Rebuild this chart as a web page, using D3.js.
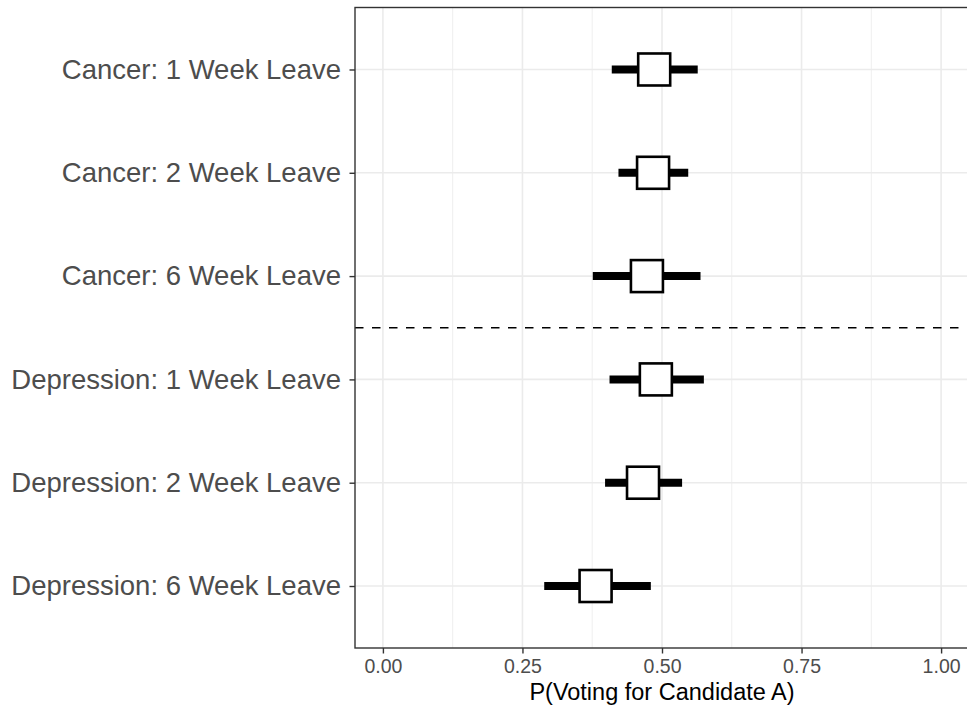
<!DOCTYPE html>
<html lang="en">
<head>
  <meta charset="UTF-8">
  <title>P(Voting for Candidate A)</title>
  <script src="https://d3js.org/d3.v7.min.js"></script>
  <style>
    body { margin: 0; background: #fff; }
    text { font-family: "Liberation Sans", Arial, sans-serif; }
  </style>
</head>
<body>
  <svg width="967" height="708" id="chart"></svg>
  <script>
    const categories = [
      'Cancer: 1 Week Leave',
      'Cancer: 2 Week Leave',
      'Cancer: 6 Week Leave',
      'Depression: 1 Week Leave',
      'Depression: 2 Week Leave',
      'Depression: 6 Week Leave'
    ];
    const estimates = [0.486, 0.484, 0.473, 0.489, 0.466, 0.381];
    const lower = [0.410, 0.422, 0.376, 0.406, 0.398, 0.289];
    const upper = [0.564, 0.547, 0.569, 0.575, 0.536, 0.480];
    const xTicks = [0, 0.25, 0.5, 0.75, 1];
    const xMinor = [0.125, 0.375, 0.625, 0.875];

    const svg = d3.select('#chart');
    const margin = { top: 7.5, right: -2, bottom: 60, left: 355 };
    const width = +svg.attr('width');
    const height = +svg.attr('height');
    const innerWidth = width - margin.left - margin.right;
    const innerHeight = height - margin.top - margin.bottom;

    const x = d3.scaleLinear().domain([-0.05, 1.05]).range([0, innerWidth]);
    const y = d3.scalePoint().domain(categories).range([0, innerHeight]).padding(0.6);

    const g = svg.append('g').attr('transform', `translate(${margin.left},${margin.top})`);

    // grid
    g.selectAll('.minor').data(xMinor).join('line')
      .attr('x1', d => x(d)).attr('x2', d => x(d))
      .attr('y1', 0).attr('y2', innerHeight)
      .attr('stroke', '#ebebeb').attr('stroke-width', 0.8);
    g.selectAll('.major').data(xTicks).join('line')
      .attr('x1', d => x(d)).attr('x2', d => x(d))
      .attr('y1', 0).attr('y2', innerHeight)
      .attr('stroke', '#ebebeb').attr('stroke-width', 1.6);
    g.selectAll('.hgrid').data(categories).join('line')
      .attr('x1', 0).attr('x2', innerWidth)
      .attr('y1', d => y(d)).attr('y2', d => y(d))
      .attr('stroke', '#ebebeb').attr('stroke-width', 1.6);

    // separator between cancer and depression
    const sepY = (y(categories[2]) + y(categories[3])) / 2;
    g.append('line')
      .attr('x1', 0).attr('x2', innerWidth)
      .attr('y1', sepY).attr('y2', sepY)
      .attr('stroke', '#000').attr('stroke-width', 1.6)
      .attr('stroke-dasharray', '8.5,8.5');

    // error bars
    categories.forEach((c, i) => {
      g.append('line')
        .attr('x1', x(lower[i])).attr('x2', x(upper[i]))
        .attr('y1', y(c)).attr('y2', y(c))
        .attr('stroke', '#000').attr('stroke-width', 8);
    });

    // point boxes
    const box = 32;
    categories.forEach((c, i) => {
      g.append('rect')
        .attr('x', x(estimates[i]) - box / 2)
        .attr('y', y(c) - box / 2)
        .attr('width', box).attr('height', box)
        .attr('fill', '#fff').attr('stroke', '#000').attr('stroke-width', 2.6);
    });

    // panel border
    g.append('rect')
      .attr('x', 0).attr('y', 0)
      .attr('width', innerWidth).attr('height', innerHeight)
      .attr('fill', 'none').attr('stroke', '#333').attr('stroke-width', 1.4);

    // axes
    const yAxis = g.append('g').call(d3.axisLeft(y).tickSize(5.5).tickPadding(8.5));
    yAxis.select('.domain').remove();
    yAxis.selectAll('line').attr('stroke', '#333').attr('stroke-width', 1.4);
    yAxis.selectAll('text').attr('fill', '#4d4d4d').attr('font-size', '27.5px');

    const xAxis = g.append('g').attr('transform', `translate(0,${innerHeight})`)
      .call(d3.axisBottom(x).tickValues(xTicks).tickFormat(d3.format('.2f')).tickSize(5.5).tickPadding(6));
    xAxis.select('.domain').remove();
    xAxis.selectAll('line').attr('stroke', '#333').attr('stroke-width', 1.4);
    xAxis.selectAll('text').attr('fill', '#4d4d4d').attr('font-size', '19.5px');

    svg.append('text')
      .attr('x', margin.left + innerWidth / 2)
      .attr('y', 700)
      .attr('text-anchor', 'middle')
      .attr('font-size', '23.5px')
      .attr('fill', '#000')
      .text('P(Voting for Candidate A)');
  </script>
</body>
</html>
